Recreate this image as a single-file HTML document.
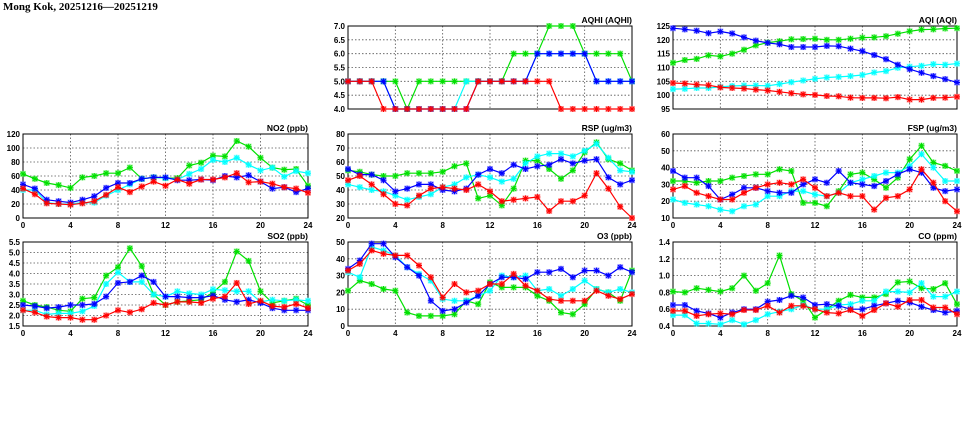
<!DOCTYPE html>
<html><head><meta charset="utf-8"><style>
html,body{margin:0;padding:0;background:#fff;}
svg{display:block;}
text{font-family:"Liberation Sans",sans-serif;}
</style></head><body>
<svg id="s" width="975" height="447" xmlns="http://www.w3.org/2000/svg">
<text x="3" y="10" font-size="11" font-weight="bold" style="font-family:'Liberation Serif',serif">Mong Kok, 20251216—20251219</text>
</svg>
<script>
const S=document.getElementById('s');
const NS='http://www.w3.org/2000/svg';
function el(t,a,txt){const e=document.createElementNS(NS,t);for(const k in a)e.setAttribute(k,a[k]);if(txt!==undefined)e.textContent=txt;S.appendChild(e);return e;}
const cols=['#00e000','#00ffff','#0000ff','#ff0000'];
const P=[
{t:'AQHI (AQHI)',x:348,y:26,w:284,h:83,min:4,max:7,step:0.5,dec:1,xl:false,d:[
[5,5,5,5,5,4,5,5,5,5,5,5,5,5,6,6,6,7,7,7,6,6,6,6,5],
[5,5,5,5,4,4,4,4,4,4,5,5,5,5,5,5,6,6,6,6,6,5,5,5,5],
[5,5,5,5,4,4,4,4,4,4,4,5,5,5,5,5,6,6,6,6,6,5,5,5,5],
[5,5,5,4,4,4,4,4,4,4,4,5,5,5,5,5,5,5,4,4,4,4,4,4,4]]},
{t:'AQI (AQI)',x:673,y:26,w:284,h:83,min:95,max:125,step:5,dec:0,xl:false,d:[
[111.7,112.7,113.1,114.4,114.0,115.0,116.4,118.0,119.0,119.5,120.2,120.3,120.4,120.0,120.0,120.4,120.8,120.9,121.3,122.2,123.1,123.7,123.8,124.1,124.2],
[102.2,102.3,102.6,102.6,103.0,103.3,103.5,103.5,103.4,104.0,104.7,105.3,105.9,106.4,106.6,106.9,107.3,108.2,108.7,109.9,110.3,110.6,111.2,111.0,111.4],
[124.2,123.8,123.3,122.4,123.0,122.3,120.9,119.7,118.9,118.4,117.4,117.4,117.4,117.8,117.7,116.8,115.9,114.5,113.0,111.0,109.4,108.1,106.9,105.8,104.6],
[104.4,104.2,103.8,103.6,102.8,102.6,102.4,102.0,101.7,101.2,100.7,100.3,100.1,99.7,99.6,99.1,99.0,99.0,98.9,99.3,98.4,98.4,99.0,99.1,99.4]]},
{t:'NO2 (ppb)',x:23,y:134,w:285,h:84,min:0,max:120,step:20,dec:0,xl:true,d:[
[63,56,50,47,43,58,60,64,64,72,56,58,57,57,75,79,89,88,110,102,86,72,69,70,46],
[40,40,22,20,20,22,22,32,40,48,56,58,57,55,63,70,83,80,86,76,68,72,59,67,64],
[48,42,26,24,22,26,31,43,50,50,56,58,58,54,54,55,54,60,58,61,52,42,44,37,42],
[42,34,21,20,19,21,24,33,44,37,45,52,46,55,49,55,55,58,64,51,52,49,44,42,36]]},
{t:'RSP (ug/m3)',x:348,y:134,w:284,h:84,min:20,max:80,step:10,dec:0,xl:true,d:[
[54,53,51,50,50,52,52,52,53,57,59,34,36,29,41,61,61,55,48,54,67,74,62,59,54],
[44,42,40,39,36,33,35,37,42,44,49,51,49,46,48,59,64,66,66,64,68,73,63,54,53],
[55,51,51,47,39,41,44,44,40,39,41,51,55,52,58,55,57,58,62,59,61,62,49,44,47],
[47,50,44,37,30,29,36,41,42,41,40,44,39,32,33,34,35,25,32,32,36,52,41,28,20]]},
{t:'FSP (ug/m3)',x:673,y:134,w:284,h:84,min:10,max:60,step:10,dec:0,xl:true,d:[
[32,32,31,32,32,34,35,36,36,39,38,19,19,17,26,36,37,33,28,34,45,53,43,41,38],
[21,19,18,17,15,14,17,18,23,23,26,26,24,23,25,31,33,35,37,37,41,48,40,32,32],
[38,34,34,29,21,24,28,28,26,25,25,30,33,31,38,31,30,29,32,36,39,37,28,26,27],
[27,29,25,23,21,21,25,28,30,31,30,33,28,23,25,23,23,15,22,23,27,39,31,20,14]]},
{t:'SO2 (ppb)',x:23,y:242,w:285,h:84,min:1.5,max:5.5,step:0.5,dec:1,xl:true,d:[
[2.7,2.5,2.4,2.25,2.2,2.8,2.85,3.9,4.3,5.2,4.35,3.0,2.5,2.65,2.7,2.75,3.1,3.6,5.05,4.6,3.15,2.6,2.7,2.8,2.5],
[2.25,2.25,2.05,2.1,2.1,2.2,2.45,3.5,4.05,3.6,3.6,3.0,2.9,3.15,3.05,3.0,3.25,3.2,3.15,3.15,2.65,2.75,2.7,2.75,2.7],
[2.5,2.45,2.35,2.4,2.5,2.5,2.55,2.9,3.55,3.6,3.9,3.6,2.9,2.9,2.85,2.85,2.95,2.75,2.65,2.75,2.6,2.35,2.25,2.25,2.25],
[2.25,2.15,1.95,1.9,1.9,1.8,1.8,2.0,2.25,2.15,2.3,2.6,2.5,2.65,2.65,2.6,2.8,2.9,3.55,2.55,2.7,2.45,2.4,2.55,2.35]]},
{t:'O3 (ppb)',x:348,y:242,w:284,h:84,min:0,max:50,step:10,dec:0,xl:true,d:[
[21,27,25,22,21,8,6,6,6,7,15,13,26,23,23,23,18,15,8,7,13,22,20,15,33],
[32,29,47,45,42,35,31,27,16,15,15,18,21,30,29,30,21,22,18,22,27,22,20,22,20],
[34,39,49,49,41,35,30,15,9,10,14,18,25,29,29,28,32,32,34,29,33,33,30,35,32],
[33,37,45,43,42,42,36,29,17,25,20,21,25,25,31,24,21,16,15,15,15,21,18,16,19]]},
{t:'CO (ppm)',x:673,y:242,w:284,h:84,min:0.4,max:1.4,step:0.2,dec:1,xl:true,d:[
[.81,.80,.85,.83,.81,.85,1.0,.82,.91,1.24,.78,.7,.5,.6,.7,.77,.74,.74,.78,.92,.93,.85,.84,.91,.66],
[.53,.53,.43,.43,.42,.47,.42,.47,.54,.57,.6,.65,.6,.6,.65,.66,.7,.7,.81,.81,.8,.91,.75,.75,.81],
[.65,.65,.58,.55,.5,.56,.6,.6,.69,.71,.76,.74,.65,.66,.64,.6,.6,.64,.67,.70,.68,.63,.59,.56,.58],
[.58,.58,.52,.54,.55,.54,.59,.59,.64,.56,.64,.64,.6,.56,.55,.59,.52,.59,.67,.63,.71,.71,.62,.62,.54]]}
];
for(const p of P){
  const X=i=>p.x+p.w*i/24, Y=v=>p.y+p.h*(p.max-v)/(p.max-p.min);
  const n=Math.round((p.max-p.min)/p.step);
  for(let k=0;k<=n;k++){const v=p.min+k*p.step,y=Y(v);
    if(k>0&&k<n)el('line',{x1:p.x,x2:p.x+p.w,y1:y,y2:y,stroke:'#555','stroke-width':0.8,'stroke-dasharray':'1.5,2'});
    el('text',{x:p.x-3,y:y+3,'font-size':8,'font-weight':'bold','text-anchor':'end'},v.toFixed(p.dec));}
  for(let i=0;i<=24;i+=4){const x=X(i);
    if(i>0&&i<24)el('line',{x1:x,x2:x,y1:p.y,y2:p.y+p.h,stroke:'#555','stroke-width':0.8,'stroke-dasharray':'1.5,2'});
    if(p.xl)el('text',{x:x,y:p.y+p.h+10,'font-size':8,'font-weight':'bold','text-anchor':'middle'},i);}
  el('rect',{x:p.x,y:p.y,width:p.w,height:p.h,fill:'none',stroke:'#000','stroke-width':1});
  el('text',{x:p.x+p.w,y:p.y-3,'font-size':8.5,'font-weight':'bold','text-anchor':'end','font-family':'Liberation Mono, monospace'},p.t);
  p.d.forEach((s,si)=>{
    const c=cols[si];
    el('polyline',{points:s.map((v,i)=>X(i).toFixed(1)+','+Y(v).toFixed(1)).join(' '),fill:'none',stroke:c,'stroke-width':1.2});
    s.forEach((v,i)=>{const x=X(i),y=Y(v);
      el('rect',{x:x-3,y:y-3,width:6,height:6,fill:c,opacity:0.35});
      el('path',{d:`M${x-3},${y}h6M${x},${y-3}v6M${x-2.2},${y-2.2}l4.4,4.4M${x-2.2},${y+2.2}l4.4,-4.4`,stroke:c,'stroke-width':1,fill:'none'});});
  });
}
</script>
</body></html>
